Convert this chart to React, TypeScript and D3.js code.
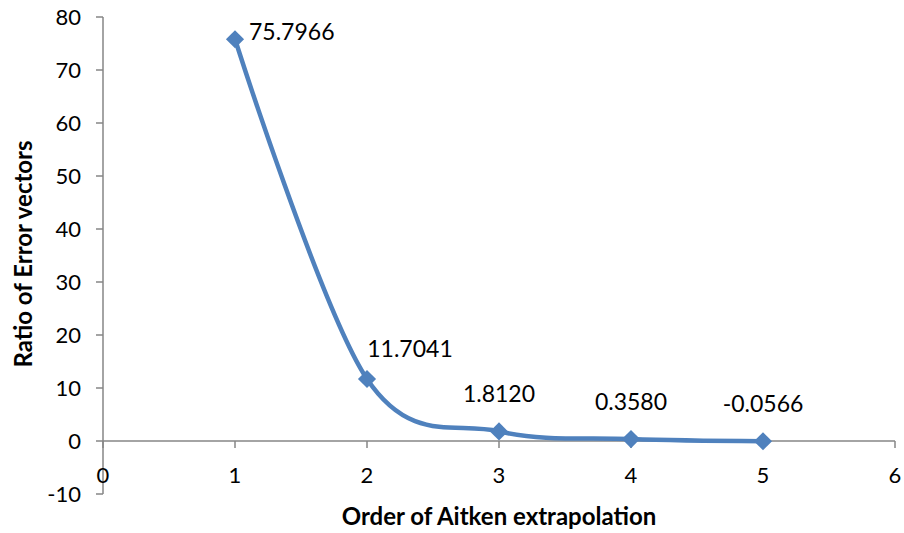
import React from "react";
import * as d3 from "d3";

const orders = [1, 2, 3, 4, 5];
const ratios = [75.7966, 11.7041, 1.812, 0.358, -0.0566];
const labels = ["75.7966", "11.7041", "1.8120", "0.3580", "-0.0566"];
const xTicks = [0, 1, 2, 3, 4, 5, 6];
const yTicks = [-10, 0, 10, 20, 30, 40, 50, 60, 70, 80];

const W = 904;
const H = 533;
const font = "Lato, 'Open Sans', sans-serif";
const axisColor = "#868686";
const lineColor = "#4F81BD";

export default function App() {
  const x = d3.scaleLinear().domain([0, 6]).range([103, 895]);
  const y = d3.scaleLinear().domain([-10, 80]).range([494, 17]);
  const line = d3
    .line<number>()
    .x((_, i) => x(orders[i]))
    .y((d) => y(d))
    .curve(d3.curveCardinal.tension(0));
  const diamond = d3.symbol().type(d3.symbolDiamond2 || d3.symbolDiamond).size(210)();

  return (
    <svg width={W} height={H} style={{ position: "absolute", left: 0, top: 0, background: "#fff" }} fontFamily={font}>
      {/* y axis */}
      <line x1={x(0)} x2={x(0)} y1={y(80)} y2={y(-10)} stroke={axisColor} strokeWidth={1.5} />
      {yTicks.map((t) => (
        <g key={"y" + t}>
          <line x1={x(0) - 7} x2={x(0)} y1={y(t)} y2={y(t)} stroke={axisColor} strokeWidth={1.5} />
          <text x={x(0) - 22} y={y(t)} dy="0.36em" textAnchor="end" fontSize={22} fill="#000">
            {t}
          </text>
        </g>
      ))}
      {/* x axis at y=0 */}
      <line x1={x(0)} x2={x(6)} y1={y(0)} y2={y(0)} stroke={axisColor} strokeWidth={1.5} />
      {xTicks.map((t) => (
        <g key={"x" + t}>
          <line x1={x(t)} x2={x(t)} y1={y(0)} y2={y(0) + 7} stroke={axisColor} strokeWidth={1.5} />
          <text x={x(t)} y={y(0) + 42} textAnchor="middle" fontSize={22} fill="#000">
            {t}
          </text>
        </g>
      ))}
      {/* series */}
      <path d={line(ratios) || ""} fill="none" stroke={lineColor} strokeWidth={4.5} />
      {ratios.map((v, i) => (
        <path key={"m" + i} d={diamond || ""} transform={`translate(${x(orders[i])},${y(v)})`} fill={lineColor} />
      ))}
      {ratios.map((v, i) =>
        i === 0 ? (
          <text key={"l" + i} x={x(orders[i]) + 14} y={y(v) + 1} fontSize={23} fill="#000">
            {labels[i]}
          </text>
        ) : (
          <text key={"l" + i} x={x(orders[i]) + (i === 1 ? 43 : 0)} y={y(v) - (i === 1 ? 22 : 29)} textAnchor="middle" fontSize={23} fill="#000">
            {labels[i]}
          </text>
        )
      )}
      {/* axis titles */}
      <text x={499} y={525} textAnchor="middle" fontSize={24} fontWeight="bold" fill="#000">
        Order of Aitken extrapolation
      </text>
      <text transform={`translate(32,254) rotate(-90)`} textAnchor="middle" fontSize={24} fontWeight="bold" fill="#000">
        Ratio of Error vectors
      </text>
    </svg>
  );
}
